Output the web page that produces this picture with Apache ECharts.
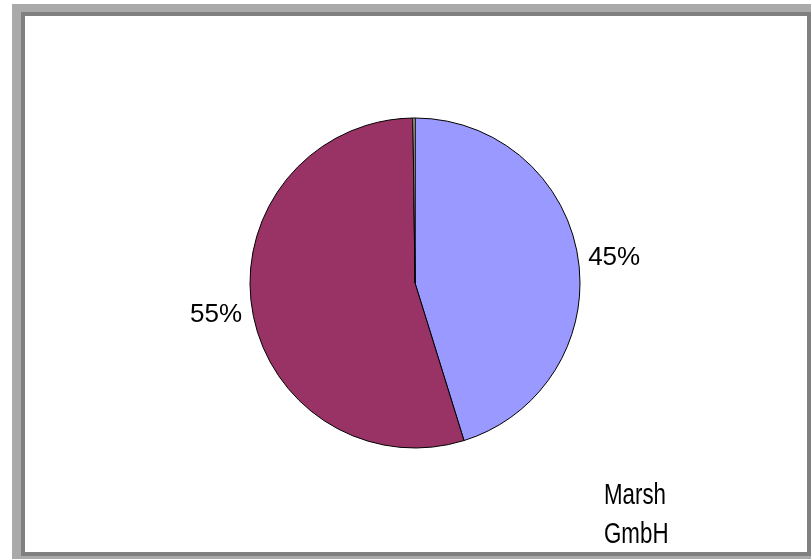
<!DOCTYPE html>
<html>
<head>
<meta charset="utf-8">
<script src="https://cdn.jsdelivr.net/npm/echarts@6/dist/echarts.min.js"></script>
<style>
html,body{margin:0;padding:0;background:#fff;}
#chart{width:811px;height:559px;}
</style>
</head>
<body>
<div id="chart"></div>
<script>
// Data
var categories = ['Category 1', 'Category 2', 'Category 3'];
var values = [45.2, 54.6, 0.2];
var colors = ['#9999FF', '#993366', '#FFFFCC'];
var titleText = 'Marsh\nGmbH';

var chart = echarts.init(document.getElementById('chart'), null, {renderer: 'canvas'});

var pieData = categories.map(function (c, i) {
  var item = {name: c, value: values[i], itemStyle: {color: colors[i]}};
  if (i === 2) { item.label = {show: false}; }
  return item;
});

chart.setOption({
  animation: false,
  backgroundColor: '#ffffff',
  graphic: [
    {type: 'rect', silent: true, z: -10, shape: {x: 12, y: 4, width: 810, height: 570}, style: {fill: '#aaaaaa'}},
    {type: 'rect', silent: true, z: -9, shape: {x: 21, y: 12, width: 790, height: 544}, style: {fill: '#808080'}},
    {type: 'rect', silent: true, z: -8, shape: {x: 25, y: 16, width: 782, height: 536}, style: {fill: '#ffffff'}},
    {
      type: 'text', silent: true, z: 10,
      x: 604, y: 476, scaleX: 0.77, scaleY: 1,
      style: {
        text: titleText,
        font: '29px "Liberation Sans", Arial, sans-serif',
        lineHeight: 39,
        fill: '#000',
        textAlign: 'left',
        textVerticalAlign: 'top'
      }
    }
  ],
  series: [{
    type: 'pie',
    center: [415, 283],
    radius: [0, 165],
    startAngle: 90,
    clockwise: true,
    avoidLabelOverlap: false,
    data: pieData,
    itemStyle: {borderColor: '#000', borderWidth: 1},
    emphasis: {disabled: true},
    label: {
      show: true,
      position: 'outside',
      formatter: function (p) { return Math.round(p.percent) + '%'; },
      fontFamily: '"Liberation Sans", Arial, sans-serif',
      fontSize: 26,
      color: '#000',
      distanceToLabelLine: 5
    },
    labelLayout: function (params) {
      return params.dataIndex === 1 ? {dy: 6} : {};
    },
    labelLine: {show: false, length: 0, length2: 5}
  }]
});
</script>
</body>
</html>
